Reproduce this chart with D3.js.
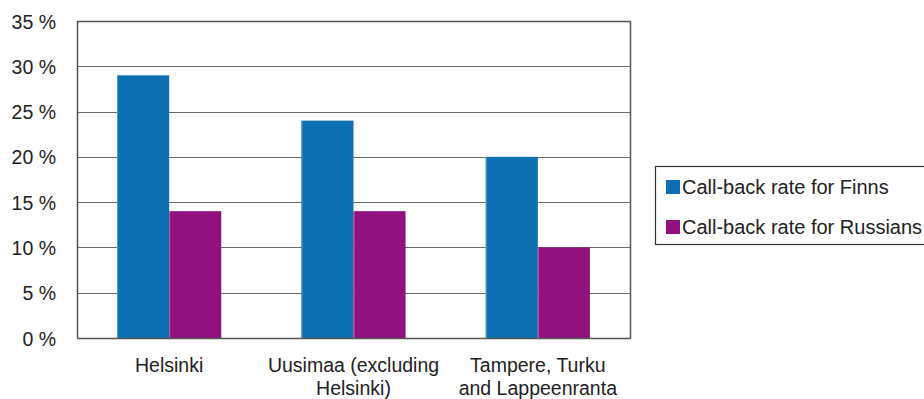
<!DOCTYPE html>
<html>
<head>
<meta charset="utf-8">
<script src="https://cdn.jsdelivr.net/npm/d3@7"></script>
<style>
  html, body { margin: 0; padding: 0; background: #fff; }
  svg text { font-family: "Liberation Sans", Arial, Helvetica, sans-serif; fill: #222; }
</style>
</head>
<body>
<svg id="chart" width="924" height="399"></svg>
<script>
// Call-back rates by region (%)
const categories = [["Helsinki"], ["Uusimaa (excluding", "Helsinki)"], ["Tampere, Turku", "and Lappeenranta"]];
const seriesNames = ["Call-back rate for Finns", "Call-back rate for Russians"];
const finns = [29, 24, 20];
const russians = [14, 14, 10];
const yTicks = [0, 5, 10, 15, 20, 25, 30, 35];
const colors = ["#0c6fb1", "#93117e"];
const strokes = ["#5a9fd0", "#b960aa"];

const svg = d3.select("#chart");
const x0 = 77, x1 = 630, yTop = 21, yBot = 338;
const FS = 19.5;

const x = d3.scaleBand().domain(d3.range(categories.length)).range([x0, x1]).paddingInner(0).paddingOuter(0);
const xs = d3.scaleBand().domain([0, 1]).range([0, x.bandwidth()]).paddingInner(0).paddingOuter(0.77);
const y = d3.scaleLinear().domain([0, 35]).range([yBot, yTop]);

// gridlines
svg.append("g")
  .selectAll("line")
  .data(yTicks.filter(t => t > 0))
  .join("line")
  .attr("x1", x0).attr("x2", x1)
  .attr("y1", d => Math.round(y(d)) + 0.5).attr("y2", d => Math.round(y(d)) + 0.5)
  .attr("stroke", "#6a6a6a").attr("stroke-width", 1);

// bars
const data = categories.map((c, i) => [finns[i], russians[i]]);
const groups = svg.append("g").selectAll("g")
  .data(data).join("g")
  .attr("transform", (d, i) => `translate(${x(i)},0)`);
groups.selectAll("rect")
  .data(d => d.map((v, k) => ({ v, k })))
  .join("rect")
  .attr("x", d => xs(d.k))
  .attr("width", xs.bandwidth())
  .attr("y", d => y(d.v))
  .attr("height", d => yBot - y(d.v))
  .attr("fill", d => colors[d.k]);
groups.selectAll("line.edge")
  .data(d => d.map((v, k) => ({ v, k })))
  .join("line")
  .attr("class", "edge")
  .attr("x1", d => xs(d.k) + 0.5).attr("x2", d => xs(d.k) + 0.5)
  .attr("y1", d => y(d.v)).attr("y2", yBot)
  .attr("stroke", d => strokes[d.k]).attr("stroke-width", 1);

// frame: left axis, top and right borders, baseline
svg.append("path")
  .attr("d", `M${x0 + 0.5},${yBot} V${yTop + 0.5} H${x1 + 0.5} V${yBot + 0.5}`)
  .attr("fill", "none").attr("stroke", "#555").attr("stroke-width", 1.5);
svg.append("line")
  .attr("x1", x0).attr("x2", x1 + 1)
  .attr("y1", yBot + 0.5).attr("y2", yBot + 0.5)
  .attr("stroke", "#555").attr("stroke-width", 1.5);

// y axis labels
const yAxis = d3.axisLeft(y).tickValues(yTicks).tickSize(0).tickPadding(21).tickFormat(d => d + " %");
const ya = svg.append("g").attr("transform", `translate(${x0},0)`).call(yAxis);
ya.select(".domain").remove();
ya.attr("font-size", null).attr("font-family", null);
ya.selectAll("text").attr("font-size", FS).attr("fill", "#222").attr("dy", "0.36em");

// category labels
const cl = svg.append("g");
categories.forEach((lines, i) => {
  const t = cl.append("text")
    .attr("x", x(i) + x.bandwidth() / 2)
    .attr("y", 372)
    .attr("text-anchor", "middle")
    .attr("font-size", FS);
  lines.forEach((ln, j) => {
    t.append("tspan").attr("x", x(i) + x.bandwidth() / 2).attr("dy", j === 0 ? 0 : 23).text(ln);
  });
});

// legend
const lg = svg.append("g");
lg.append("rect")
  .attr("x", 655.5).attr("y", 166.5).attr("width", 290).attr("height", 78)
  .attr("fill", "#fff").attr("stroke", "#333").attr("stroke-width", 1.2);
seriesNames.forEach((name, i) => {
  const cy = 187 + i * 40;
  lg.append("rect").attr("x", 666).attr("y", cy - 7).attr("width", 14).attr("height", 14).attr("fill", colors[i]);
  lg.append("text").attr("x", 682).attr("y", cy + 7).attr("font-size", 20).text(name);
});
</script>
</body>
</html>
